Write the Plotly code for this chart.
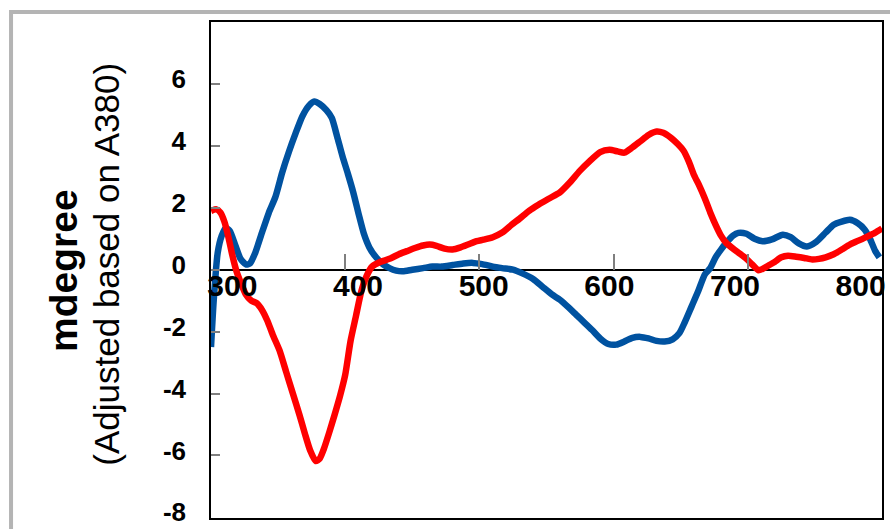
import plotly.graph_objects as go

# Wavelength (nm) and CD signal (mdegree) for the two spectra
blue_nm = [300, 302, 305, 308, 311, 314, 318, 322, 326, 329, 333, 338, 343, 348, 353, 358,
           363, 368, 373, 377, 381, 386, 390, 394, 398, 402, 406, 410, 414, 418, 423, 428,
           433, 438, 443, 450, 458, 465, 472, 480, 488, 495, 502, 510, 517, 525, 532, 540,
           547, 554, 560, 566, 572, 578, 584, 590, 596, 602, 608, 614, 620, 626, 632, 638,
           644, 649, 653, 658, 663, 668, 672, 676, 680, 684, 689, 693, 699, 705, 711, 718,
           726, 732, 738, 744, 751, 758, 764, 770, 776, 782, 787, 791, 795, 798]
blue_md = [-2.5, -1.0, 0.55, 1.1, 1.35, 1.25, 0.8, 0.35, 0.17, 0.2, 0.55, 1.2, 1.83, 2.35, 3.13, 3.8,
           4.4, 4.95, 5.3, 5.43, 5.35, 5.15, 4.9, 4.3, 3.66, 3.1, 2.5, 1.8, 1.15, 0.72, 0.4, 0.18,
           0.05, -0.03, -0.05, 0.0, 0.05, 0.1, 0.1, 0.15, 0.2, 0.22, 0.18, 0.1, 0.05, 0.0, -0.12, -0.3,
           -0.55, -0.8, -0.97, -1.2, -1.45, -1.7, -1.95, -2.22, -2.4, -2.42, -2.32, -2.2, -2.17, -2.22, -2.3, -2.32,
           -2.25, -2.05, -1.7, -1.2, -0.7, -0.15, 0.05, 0.4, 0.65, 0.87, 1.1, 1.19, 1.16, 1.0, 0.92, 0.98,
           1.13, 1.05, 0.85, 0.75, 0.9, 1.2, 1.45, 1.55, 1.61, 1.5, 1.3, 1.0, 0.6, 0.4]

red_nm = [300, 304, 307, 310, 313, 316, 319, 322, 326, 330, 334, 338, 342, 346, 351, 356,
          361, 366, 370, 374, 378, 381, 384, 388, 392, 396, 400, 404, 408, 412, 416, 420,
          426, 433, 440, 446, 452, 458, 463, 468, 474, 480, 486, 492, 498, 503, 510, 517,
          524, 530, 537, 544, 552, 560, 567, 575, 582, 590, 597, 603, 608, 614, 620, 626,
          632, 637, 643, 648, 652, 656, 660, 664, 668, 672, 676, 680, 684, 689, 694, 699,
          703, 708, 712, 716, 720, 725, 730, 736, 742, 748, 753, 758, 764, 770, 776, 782,
          789, 795, 800]
red_md = [1.9, 1.95, 1.85, 1.55, 1.05, 0.45, -0.05, -0.4, -0.8, -1.0, -1.08, -1.3, -1.65, -2.1, -2.6, -3.3,
          -4.0, -4.7, -5.3, -5.85, -6.18, -6.1, -5.8, -5.27, -4.7, -4.1, -3.4, -2.3, -1.5, -0.7, -0.2, 0.1,
          0.25, 0.35, 0.5, 0.6, 0.7, 0.78, 0.81, 0.77, 0.68, 0.65, 0.72, 0.82, 0.92, 0.97, 1.05, 1.2,
          1.45, 1.65, 1.9, 2.1, 2.3, 2.5, 2.8, 3.2, 3.5, 3.8, 3.87, 3.82, 3.78, 3.95, 4.15, 4.35,
          4.46, 4.42, 4.25, 4.05, 3.85, 3.5, 3.05, 2.7, 2.3, 1.85, 1.45, 1.1, 0.86, 0.68, 0.52, 0.35,
          0.18, -0.02, 0.05, 0.15, 0.25, 0.4, 0.45, 0.42, 0.38, 0.33, 0.35, 0.4, 0.5, 0.65, 0.81, 0.93,
          1.07, 1.2, 1.33]

x_ticks = [300, 400, 500, 600, 700, 800]
y_ticks = [-8, -6, -4, -2, 0, 2, 4, 6]
y_labels = [str(v) for v in y_ticks]  # plain hyphen for negatives

FONT = "Liberation Sans, Arial, sans-serif"
BLUE = "#0052a0"
RED = "#ff0000"

fig = go.Figure()
fig.add_trace(go.Scatter(x=blue_nm, y=blue_md, mode="lines",
                         line=dict(color=BLUE, width=6.5, shape="spline", smoothing=0.6),
                         showlegend=False))
fig.add_trace(go.Scatter(x=red_nm, y=red_md, mode="lines",
                         line=dict(color=RED, width=6.5, shape="spline", smoothing=0.6),
                         showlegend=False))

# empty carriers so the overlaid tick / label axes get drawn
for ax in ("x2", "x3"):
    fig.add_trace(go.Scatter(x=x_ticks, y=[None] * len(x_ticks), xaxis=ax, yaxis="y",
                             mode="markers", marker=dict(opacity=0),
                             hoverinfo="skip", showlegend=False))

fig.update_layout(
    width=890, height=529,
    margin=dict(l=211, r=8, t=22, b=11, autoexpand=False),
    paper_bgcolor="white", plot_bgcolor="white",
    font=dict(family=FONT, color="black"),
    xaxis=dict(range=[300, 800], showgrid=False, zeroline=False, automargin=False,
               showline=True, mirror=True, linecolor="black", linewidth=1.5,
               ticks="", showticklabels=False),
    # tick marks sitting on the zero line
    xaxis2=dict(overlaying="x", anchor="free", position=0.5, range=[300, 800],
                tickvals=x_ticks, ticks="inside", ticklen=16, tickwidth=1.5,
                tickcolor="#7f7f7f", showticklabels=False, showline=False,
                showgrid=False, zeroline=False, automargin=False),
    # wavelength labels under the zero line
    xaxis3=dict(overlaying="x", anchor="free", position=0.51, range=[283, 817],
                tickvals=x_ticks, ticks="", showticklabels=True, showline=False,
                showgrid=False, zeroline=False, ticklabelstandoff=0, automargin=False,
                tickfont=dict(family=FONT, size=30, color="black", weight="bold")),
    yaxis=dict(range=[-8.02, 8], tickvals=y_ticks, ticktext=y_labels,
               showgrid=False, automargin=False,
               zeroline=True, zerolinecolor="black", zerolinewidth=1.5,
               showline=True, mirror=True, linecolor="black", linewidth=1.5,
               ticks="inside", ticklen=9, tickwidth=1.5, tickcolor="#7f7f7f",
               ticklabelstandoff=18, ticklabelshift=-5, ticklabeloverflow="allow",
               tickfont=dict(family=FONT, size=26, color="black", weight="bold")),
)

# outer grey frame
fig.add_shape(type="rect", xref="paper", yref="paper",
              x0=-0.298, x1=1.05, y0=-0.05, y1=1.0202,
              line=dict(color="#b4b4b4", width=4), fillcolor="rgba(0,0,0,0)", layer="below")

# two-line y-axis title
fig.add_annotation(text="<b>mdegree</b>", xref="paper", yref="paper",
                   x=-0.2206, y=0.5, textangle=-90, showarrow=False,
                   xanchor="center", yanchor="middle",
                   font=dict(family=FONT, size=39, color="black"))
fig.add_annotation(text="(Adjusted based on A380)", xref="paper", yref="paper",
                   x=-0.157, y=0.512, textangle=-90, showarrow=False,
                   xanchor="center", yanchor="middle",
                   font=dict(family=FONT, size=35, color="black"))

fig.write_html("out.html")
